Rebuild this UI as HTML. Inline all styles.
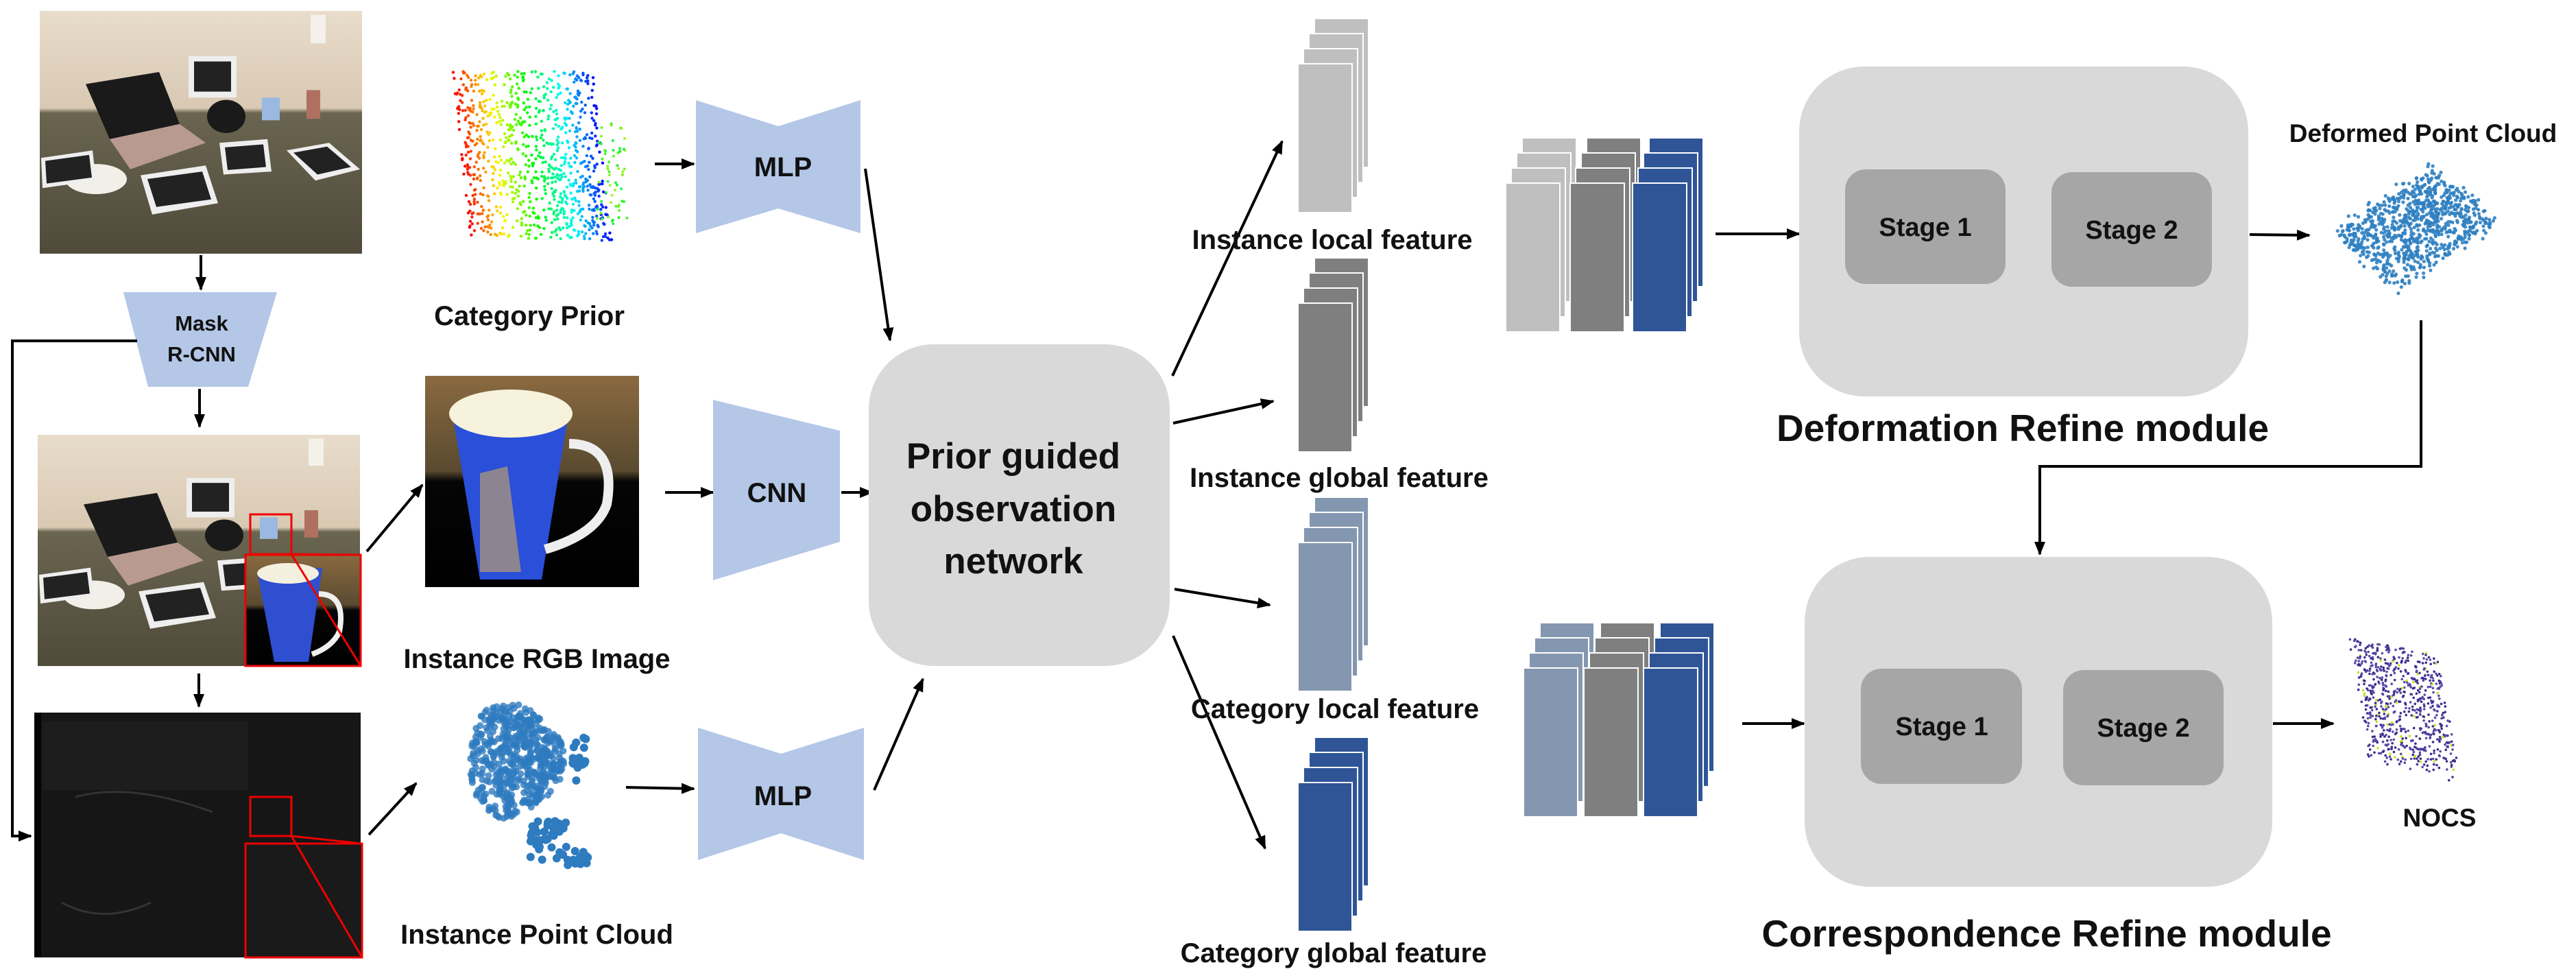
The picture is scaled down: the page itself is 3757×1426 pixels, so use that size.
<!DOCTYPE html>
<html><head><meta charset="utf-8"><style>
html,body{margin:0;padding:0;background:#fff}
svg{display:block}
text{font-family:"Liberation Sans",sans-serif;font-weight:bold;fill:#111}
</style></head><body>
<svg id="s" width="3757" height="1426" viewBox="0 0 3757 1426" xmlns="http://www.w3.org/2000/svg">
<defs>
<marker id="b" markerWidth="20" markerHeight="16" refX="18" refY="8" orient="auto" markerUnits="userSpaceOnUse"><path d="M0,0 L20,8 L0,16 z" fill="#000"/></marker>
<linearGradient id="room" x1="0" y1="0" x2="0" y2="1"><stop offset="0" stop-color="#e8dccb"/><stop offset="0.4" stop-color="#d9c9b3"/><stop offset="0.42" stop-color="#6a6550"/><stop offset="1" stop-color="#4f4a3a"/></linearGradient>
<linearGradient id="rgb" x1="0" y1="0" x2="0" y2="1"><stop offset="0" stop-color="#8a6a40"/><stop offset="0.45" stop-color="#5a4a30"/><stop offset="0.5" stop-color="#050505"/><stop offset="1" stop-color="#000"/></linearGradient>
</defs>

<g transform="translate(0,-0.5) scale(1,1.099)">
<g id="p1">
<rect x="58" y="15" width="470" height="322" fill="url(#room)"/>
<polygon points="125,112 232,96 262,165 160,185" fill="#1a1a1a"/>
<polygon points="160,185 262,165 300,190 190,225" fill="#b89a90"/>
<ellipse cx="140" cy="238" rx="45" ry="20" fill="#f2efe8"/>
<rect x="275" y="75" width="70" height="55" fill="#eee"/><rect x="283" y="82" width="54" height="40" fill="#222"/>
<polygon points="205,233 300,220 318,270 222,285" fill="#eee"/><polygon points="215,238 295,228 308,265 228,275" fill="#222"/>
<polygon points="320,190 390,185 396,228 326,232" fill="#eee"/><polygon points="328,196 384,192 388,222 332,226" fill="#222"/>
<polygon points="418,200 480,190 525,225 460,240" fill="#eee"/><polygon points="428,203 477,195 512,222 463,232" fill="#222"/>
<polygon points="60,210 135,200 140,240 62,250" fill="#eee"/><polygon points="66,214 130,206 134,236 68,244" fill="#222"/>
<ellipse cx="330" cy="155" rx="28" ry="22" fill="#1a1a1a"/>
<rect x="382" y="130" width="26" height="30" fill="#9ab8e0"/>
<rect x="447" y="120" width="20" height="38" fill="#b07060"/>
<rect x="453" y="20" width="22" height="38" fill="#f4f0ea"/>
</g></g>
<use href="#p1" transform="translate(-3,634) scale(1,1.047) translate(0,-15)"/>
<rect x="365" y="750" width="60" height="58" fill="none" stroke="#e00" stroke-width="3"/>
<g>
<rect x="358" y="809" width="168" height="162" fill="url(#rgb)"/>
<polygon points="375,833 470,828 450,965 400,965" fill="#2f4fd0"/>
<ellipse cx="420" cy="836" rx="45" ry="15" fill="#f4f0e0"/>
<path d="M465,866 q40,0 30,55 q-10,22 -40,33" fill="none" stroke="#f0f0f0" stroke-width="8"/>
</g>
<rect x="358" y="809" width="168" height="162" fill="none" stroke="#e00" stroke-width="3"/>
<line x1="425" y1="808" x2="526" y2="971" stroke="#e00" stroke-width="3"/>
<line x1="425" y1="808" x2="526" y2="809" stroke="#e00" stroke-width="3"/>

<rect x="50" y="1039" width="476" height="357" fill="#161616"/>
<rect x="50" y="1039" width="10" height="357" fill="#050505"/>
<rect x="62" y="1052" width="300" height="100" fill="#1d1d1d"/>
<path d="M110,1162 q80,-22 200,22 M90,1316 q60,33 130,0" stroke="#333" stroke-width="3" fill="none"/>
<rect x="365" y="1162" width="60" height="57" fill="none" stroke="#e00" stroke-width="3"/>
<rect x="358" y="1230" width="170" height="166" fill="#1a1a1a" stroke="#e00" stroke-width="3"/>
<line x1="425" y1="1219" x2="528" y2="1396" stroke="#e00" stroke-width="3"/>
<line x1="425" y1="1219" x2="528" y2="1230" stroke="#e00" stroke-width="3"/>

<line x1="293" y1="372" x2="293" y2="422" stroke="#000" stroke-width="4" marker-end="url(#b)"/>
<polygon points="180,426 404,426 362,564 216,564" fill="#b4c7e7"/>
<text x="294" y="482" font-size="31" text-anchor="middle">Mask</text>
<text x="294" y="527" font-size="31" text-anchor="middle">R-CNN</text>
<polyline points="200,497 18,497 18,1219 45,1219" fill="none" stroke="#000" stroke-width="4" marker-end="url(#b)"/>
<line x1="291" y1="567" x2="291" y2="622" stroke="#000" stroke-width="4" marker-end="url(#b)"/>
<line x1="290" y1="982" x2="290" y2="1030" stroke="#000" stroke-width="4" marker-end="url(#b)"/>

<g id="prior"></g>
<text x="772" y="474" font-size="40" text-anchor="middle">Category Prior</text>
<line x1="955" y1="239" x2="1012" y2="239" stroke="#000" stroke-width="4" marker-end="url(#b)"/>
<polygon points="1015,146 1135,184 1255,146 1255,340 1135,304 1015,340" fill="#b4c7e7"/>
<text x="1142" y="257" font-size="40" text-anchor="middle">MLP</text>
<line x1="1262" y1="246" x2="1298" y2="496" stroke="#000" stroke-width="4" marker-end="url(#b)"/>

<rect x="620" y="548" width="312" height="308" fill="url(#rgb)"/>
<polygon points="660,603 830,598 790,845 700,845" fill="#2a4fd8"/>
<ellipse cx="745" cy="603" rx="90" ry="35" fill="#f6f2dc"/>
<path d="M830,647 q70,0 55,88 q-15,44 -90,66" fill="none" stroke="#eee" stroke-width="14"/>
<polygon points="700,690 740,680 760,834 700,834" fill="#cfa860" opacity="0.6"/>
<line x1="535" y1="804" x2="616" y2="707" stroke="#000" stroke-width="4" marker-end="url(#b)"/>
<text x="783" y="974" font-size="40" text-anchor="middle">Instance RGB Image</text>
<line x1="970" y1="718" x2="1040" y2="718" stroke="#000" stroke-width="4" marker-end="url(#b)"/>
<polygon points="1040,583 1225,628 1225,790 1040,846" fill="#b4c7e7"/>
<text x="1133" y="732" font-size="40" text-anchor="middle">CNN</text>
<line x1="1227" y1="718" x2="1272" y2="718" stroke="#000" stroke-width="4" marker-end="url(#b)"/>

<g id="ipc"></g>
<line x1="538" y1="1217" x2="607" y2="1142" stroke="#000" stroke-width="4" marker-end="url(#b)"/>
<text x="783" y="1376" font-size="40" text-anchor="middle">Instance Point Cloud</text>
<line x1="913" y1="1148" x2="1012" y2="1150" stroke="#000" stroke-width="4" marker-end="url(#b)"/>
<polygon points="1018,1061 1139,1099 1260,1061 1260,1254 1139,1215 1018,1254" fill="#b4c7e7"/>
<text x="1142" y="1174" font-size="40" text-anchor="middle">MLP</text>
<line x1="1275" y1="1152" x2="1346" y2="990" stroke="#000" stroke-width="4" marker-end="url(#b)"/>

<rect x="1267" y="502" width="439" height="469" rx="95" fill="#d9d9d9"/>
<text x="1478" y="683" font-size="53" text-anchor="middle">Prior guided</text>
<text x="1478" y="760" font-size="53" text-anchor="middle">observation</text>
<text x="1478" y="836" font-size="53" text-anchor="middle">network</text>
<line x1="1710" y1="548" x2="1870" y2="206" stroke="#000" stroke-width="4" marker-end="url(#b)"/>
<line x1="1711" y1="617" x2="1857" y2="585" stroke="#000" stroke-width="4" marker-end="url(#b)"/>
<line x1="1713" y1="859" x2="1852" y2="882" stroke="#000" stroke-width="4" marker-end="url(#b)"/>
<line x1="1711" y1="927" x2="1845" y2="1237" stroke="#000" stroke-width="4" marker-end="url(#b)"/>

<g id="feats"></g>
<text x="1943" y="363" font-size="40" text-anchor="middle">Instance local feature</text>
<text x="1953" y="710" font-size="40" text-anchor="middle">Instance global feature</text>
<text x="1947" y="1047" font-size="40" text-anchor="middle">Category local feature</text>
<text x="1945" y="1403" font-size="40" text-anchor="middle">Category global feature</text>

<line x1="2502" y1="341" x2="2624" y2="341" stroke="#000" stroke-width="4" marker-end="url(#b)"/>
<line x1="2541" y1="1055" x2="2631" y2="1055" stroke="#000" stroke-width="4" marker-end="url(#b)"/>

<rect x="2624" y="97" width="655" height="481" rx="95" fill="#d9d9d9"/>
<rect x="2691" y="247" width="234" height="167" rx="30" fill="#a6a6a6"/>
<rect x="2992" y="251" width="234" height="167" rx="30" fill="#a6a6a6"/>
<text x="2808" y="344" font-size="38" text-anchor="middle">Stage 1</text>
<text x="3109" y="348" font-size="38" text-anchor="middle">Stage 2</text>
<text x="2950" y="643" font-size="55" text-anchor="middle">Deformation Refine module</text>
<line x1="3281" y1="342" x2="3368" y2="343" stroke="#000" stroke-width="4" marker-end="url(#b)"/>
<g id="dpc"></g>
<text x="3534" y="207" font-size="37" text-anchor="middle">Deformed Point Cloud</text>
<polyline points="3531,467 3531,680 2975,680 2975,808" fill="none" stroke="#000" stroke-width="4" marker-end="url(#b)"/>

<rect x="2632" y="812" width="682" height="481" rx="95" fill="#d9d9d9"/>
<rect x="2714" y="975" width="235" height="168" rx="30" fill="#a6a6a6"/>
<rect x="3009" y="977" width="234" height="168" rx="30" fill="#a6a6a6"/>
<text x="2832" y="1072" font-size="38" text-anchor="middle">Stage 1</text>
<text x="3126" y="1074" font-size="38" text-anchor="middle">Stage 2</text>
<text x="2985" y="1380" font-size="55" text-anchor="middle">Correspondence Refine module</text>
<line x1="3315" y1="1055" x2="3403" y2="1055" stroke="#000" stroke-width="4" marker-end="url(#b)"/>
<g id="nocs"></g>
<text x="3558" y="1205" font-size="37" text-anchor="middle">NOCS</text>
</svg>
<script>
(function(){
var NS="http://www.w3.org/2000/svg";
var seed=7;function r(){seed=(seed*16807)%2147483647;return seed/2147483647;}
function dot(g,x,y,rad,c,o){var e=document.createElementNS(NS,"circle");e.setAttribute("cx",x.toFixed(1));e.setAttribute("cy",y.toFixed(1));e.setAttribute("r",rad);e.setAttribute("fill",c);if(o)e.setAttribute("opacity",o);g.appendChild(e);}
function rect(g,x,y,w,h,c){var e=document.createElementNS(NS,"rect");e.setAttribute("x",x);e.setAttribute("y",y);e.setAttribute("width",w);e.setAttribute("height",h);e.setAttribute("fill",c);e.setAttribute("stroke","#fff");e.setAttribute("stroke-width","2");g.appendChild(e);}
var g=document.getElementById("prior");
for(var i=0;i<900;i++){var t=r(),y=104+r()*247;var x=660+t*205+(y-104)*0.11;var h=t*240;dot(g,x,y,2.2,"hsl("+h+",95%,50%)");}
for(var i=0;i<60;i++){dot(g,870+r()*45,175+r()*155,2,"hsl("+(80+r()*60)+",90%,55%)");}
g=document.getElementById("ipc");
for(var i=0;i<500;i++){var a=r()*6.28,rr=Math.sqrt(r());dot(g,755+Math.cos(a)*rr*70,1108+Math.sin(a)*rr*82*(1-0.3*Math.cos(a)),5,"#2e7bbf",0.8);}
for(var i=0;i<40;i++){dot(g,770+r()*60,1196+r()*66*(0.5+r()*0.5),6,"#2e7bbf");}
for(var i=0;i<15;i++){dot(g,820+r()*40,1240+r()*22,6,"#2e7bbf");}
for(var i=0;i<20;i++){dot(g,835+r()*20,1075+r()*66,6,"#2e7bbf");}
g=document.getElementById("feats");
function stack(x,y,c){for(var k=3;k>=0;k--){rect(g,x+k*8,y-k*22,79,217,c);}}
stack(1893,93,"#bfbfbf");stack(1893,442,"#7f7f7f");stack(1893,791,"#8497b0");stack(1893,1141,"#2f5597");
stack(2196,267,"#bfbfbf");stack(2290,267,"#7f7f7f");stack(2381,267,"#2f5597");
stack(2222,974,"#8497b0");stack(2310,974,"#7f7f7f");stack(2397,974,"#2f5597");
g=document.getElementById("dpc");
for(var i=0;i<900;i++){var u=r(),v=r();var x=3400+u*150+v*95,y=340-u*96+v*80+(r()-0.5)*22;dot(g,x,y,2.6,"#2f7fc1",0.9);}
g=document.getElementById("nocs");
for(var i=0;i<700;i++){var u=r(),v=r();var x=3425+u*130+v*30,y=930+u*25+v*190*(0.8+0.2*r());var c=r()<0.06?"#c8e020":(r()<0.5?"#3a2f8f":"#5a4aa8");dot(g,x,y,1.8,c);}
})();
</script>
</body></html>
